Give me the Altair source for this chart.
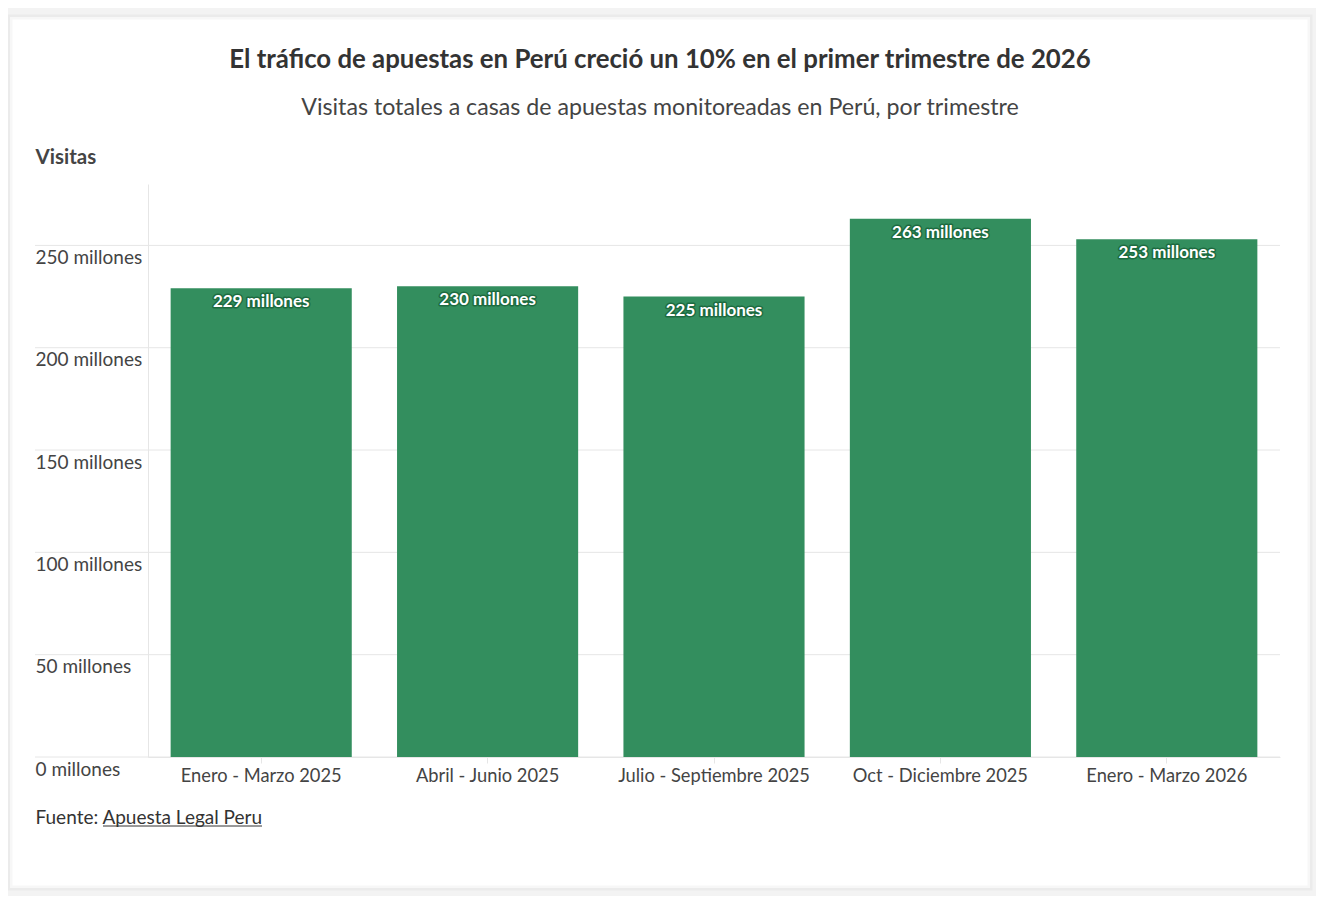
import altair as alt
import pandas as pd

quarters = ["Enero - Marzo 2025", "Abril - Junio 2025", "Julio - Septiembre 2025",
            "Oct - Diciembre 2025", "Enero - Marzo 2026"]
visits_millions = [229, 230, 225, 263, 253]
y_ticks = [0, 50, 100, 150, 200, 250]

df = pd.DataFrame({"trimestre": quarters, "visitas": visits_millions})
df["etiqueta"] = df["visitas"].astype(str) + " millones"
grid_df = pd.DataFrame({"visitas": y_ticks})

FONT = "Lato"
W, H = 1132, 573
BAR = "#338e5e"
HALO = "#1d6b40"
GRID = "#e6e6e6"

x_enc = alt.X(
    "trimestre:N", sort=quarters,
    scale=alt.Scale(paddingInner=0.2, paddingOuter=0.1),
    axis=alt.Axis(
        title="Fuente: Apuesta Legal Peru", titleFont=FONT, titleFontSize=19,
        titleFontWeight="normal", titleColor="#333", titleAnchor="start",
        titleAlign="left", titleX=-113, titleY=66, titleBaseline="alphabetic",
        labelAngle=0, labelFont=FONT, labelFontSize=18.3, labelColor="#444",
        labelPadding=4, labelBaseline="top", labelLimit=0,
        domainColor=GRID, tickColor=GRID, tickSize=6, grid=False, zindex=1,
    ),
)
y_axis = alt.Axis(
    values=y_ticks, labelExpr="datum.value + ' millones'",
    labelAlign="left", labelBaseline="top", labelOffset=3, labelPadding=113,
    labelFont=FONT, labelFontSize=19, labelColor="#444", labelOverlap=False,
    ticks=False, grid=False, domainColor=GRID, zindex=1,
    title="Visitas", titleAngle=0, titleX=-113, titleY=-21, titleAlign="left",
    titleBaseline="alphabetic", titleFont=FONT, titleFontSize=20.5,
    titleFontWeight="bold", titleColor="#444",
)
y_scale = alt.Scale(domain=[0, 280], nice=False)

card_df = pd.DataFrame({"k": [0]})
shadow = alt.Chart(card_df).mark_rect(
    fill="#ffffff", stroke="#000000", strokeOpacity=0.03, strokeWidth=5
).encode(x=alt.value(-138), x2=alt.value(1162), y=alt.value(-167), y2=alt.value(704))

gridlines = alt.Chart(grid_df).mark_rule(color=GRID, strokeWidth=1).encode(
    y=alt.Y("visitas:Q", scale=y_scale, axis=y_axis),
    x=alt.value(-113), x2=alt.value(W),
)

base = alt.Chart(df)
bars = base.mark_bar(color=BAR).encode(
    x=x_enc, y=alt.Y("visitas:Q", scale=y_scale, axis=y_axis))

halo = base.mark_text(
    font=FONT, fontSize=17, fontWeight="bold", color=HALO, stroke=HALO,
    strokeWidth=3, strokeJoin="round", baseline="middle", dy=14,
).encode(x=alt.X("trimestre:N", sort=quarters), y="visitas:Q", text="etiqueta:N")
labels = base.mark_text(
    font=FONT, fontSize=17, fontWeight="bold", color="#ffffff",
    baseline="middle", dy=14,
).encode(x=alt.X("trimestre:N", sort=quarters), y="visitas:Q", text="etiqueta:N")

underline = alt.Chart(card_df).mark_rule(color="#333", strokeWidth=1).encode(
    x=alt.value(-45), x2=alt.value(114), y=alt.value(642))

chart = alt.layer(shadow, gridlines, bars, halo, labels, underline).properties(
    width=W, height=H,
    title=alt.TitleParams(
        text="El tráfico de apuestas en Perú creció un 10% en el primer trimestre de 2026",
        subtitle="Visitas totales a casas de apuestas monitoreadas en Perú, por trimestre",
        anchor="middle", dx=-54, font=FONT, fontSize=25.8, fontWeight="bold", color="#333",
        subtitleFont=FONT, subtitleFontSize=23.2, subtitleColor="#444",
        subtitlePadding=24, offset=-106,
    ),
    autosize=alt.AutoSizeParams(type="none"),
    padding={"left": 140, "top": 176, "right": 36, "bottom": 139},
    background="#f3f3f3",
).configure_view(stroke=None)

chart.save("out.html", embed_options={"renderer": "svg", "actions": False})
